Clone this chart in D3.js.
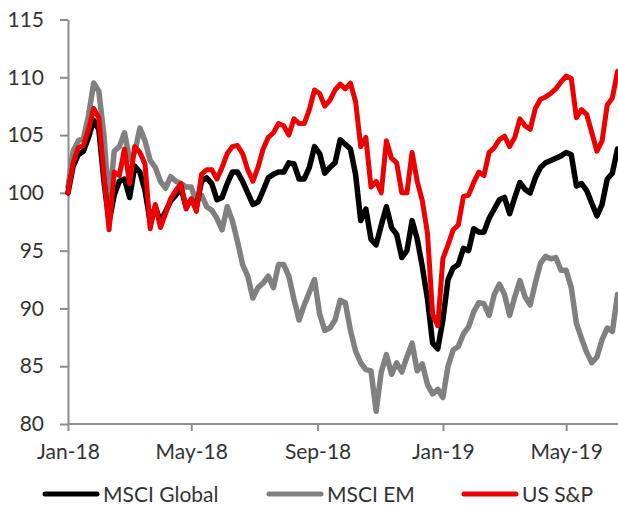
<!doctype html>
<html>
  <head>
    <script src="https://d3js.org/d3.v7.min.js"></script>
    <style>
      body { margin: 0; background: #fff; }
      text { font-family: Lato, "Open Sans", sans-serif; font-size: 21px; fill: #333; }
      .axis path, .axis line { stroke: #8c8c8c; stroke-width: 2; }
      .series { fill: none; stroke-linejoin: round; stroke-linecap: round; }
    </style>
  </head>
  <body>
    <svg id="chart" width="618" height="506"></svg>
    <script>
      // index level, rebased to 100 at start of 2018; one reading every 5 days
      const startDate = new Date(2018, 0, 1);
      const stepDays = 5;

      const msciGlobal = [100, 102.3, 103.3, 103.6, 104.8, 106.3, 105.5, 101.0, 97.5, 99.8,
        101.0, 101.2, 99.6, 102.3, 101.8, 100.2, 97.5, 98.8, 97.5, 98.4,
        99.3, 99.8, 100.4, 98.8, 99.4, 98.8, 101.0, 101.3, 100.8, 99.4,
        99.6, 100.8, 101.8, 101.8, 101.0, 100.0, 99.0, 99.2, 100.2, 101.3,
        101.6, 101.8, 101.8, 102.6, 102.5, 101.2, 101.2, 102.2, 104.0, 103.4,
        101.7, 102.2, 102.6, 104.6, 104.2, 103.8, 101.6, 97.6, 98.6, 96.0,
        95.5, 97.2, 98.8, 97.0, 96.4, 94.4, 95.0, 97.6, 96.0, 93.6,
        90.8, 87.0, 86.5, 89.0, 92.5, 93.5, 93.8, 95.2, 95.0, 96.9,
        96.6, 96.6, 97.8, 98.6, 99.4, 99.6, 98.2, 99.6, 100.9, 100.3,
        100.0, 101.3, 102.2, 102.6, 102.8, 103.0, 103.2, 103.5, 103.3, 100.6,
        100.8, 100.2, 99.1, 98.0, 99.0, 101.2, 101.7, 103.8];

      const msciEM = [100.5, 103.6, 104.5, 104.7, 106.7, 109.5, 108.8, 105.0, 99.0, 103.6,
        104.0, 105.2, 102.9, 103.5, 105.6, 104.5, 102.8, 102.2, 101.0, 100.4,
        101.4, 101.0, 100.8, 100.5, 100.5, 99.2, 99.8, 98.8, 98.5, 97.8,
        96.8, 98.8, 97.6, 95.8, 93.8, 92.8, 90.9, 91.8, 92.2, 92.8,
        91.8, 93.8, 93.8, 92.8, 90.8, 89.0, 90.3, 91.4, 92.5, 89.5,
        88.1, 88.3, 89.0, 90.7, 90.5, 88.1, 86.3, 85.3, 84.7, 84.6,
        81.1, 84.5, 86.0, 84.3, 85.3, 84.5, 85.8, 87.0, 84.6, 85.2,
        83.4, 82.6, 83.0, 82.3, 85.0, 86.4, 86.7, 87.8, 88.4, 89.7,
        90.5, 90.4, 89.4, 91.2, 92.1, 91.2, 89.4, 91.0, 92.4, 91.0,
        90.3, 92.2, 93.9, 94.5, 94.3, 94.4, 93.3, 93.3, 91.8, 88.7,
        87.4, 86.2, 85.3, 85.8, 87.3, 88.3, 88.0, 91.2];

      const usSP = [100, 102.6, 103.9, 104.1, 105.5, 107.3, 106.5, 101.5, 96.8, 101.8,
        101.5, 103.8, 100.8, 104.0, 103.5, 102.5, 96.9, 99.0, 97.0, 98.2,
        99.5, 100.2, 100.8, 98.6, 99.5, 98.4, 101.6, 102.0, 102.0, 101.2,
        102.2, 103.4, 104.0, 104.1, 103.4, 102.0, 101.0, 102.2, 103.8, 104.8,
        105.2, 106.0, 105.8, 105.0, 106.4, 106.0, 106.0, 107.2, 108.9, 108.6,
        107.5, 108.0, 108.9, 109.4, 109.0, 109.5, 107.9, 104.0, 104.8, 100.5,
        101.0, 100.0, 104.5, 103.0, 102.6, 100.0, 100.0, 103.5, 101.0, 99.3,
        96.5, 89.5, 88.5, 94.3, 95.5, 96.8, 97.2, 99.7, 99.8, 100.9,
        101.8, 101.5, 103.5, 103.9, 104.6, 104.9, 104.0, 104.8, 106.4, 105.8,
        105.5, 107.3, 108.1, 108.3, 108.6, 109.0, 109.6, 110.1, 109.9, 106.5,
        107.2, 106.8, 105.2, 103.6, 104.5, 107.6, 108.2, 110.5];

      const yTicks = [80, 85, 90, 95, 100, 105, 110, 115];
      const xTicks = [new Date(2018, 0, 1), new Date(2018, 4, 1), new Date(2018, 8, 1),
                      new Date(2019, 0, 1), new Date(2019, 4, 1)];

      const seriesList = [
        { name: 'MSCI EM', values: msciEM, color: '#808080', width: 5.5 },
        { name: 'MSCI Global', values: msciGlobal, color: '#000000', width: 5.5 },
        { name: 'US S&P', values: usSP, color: '#ee0000', width: 5 }
      ];

      const dates = msciGlobal.map((v, i) => d3.timeDay.offset(startDate, i * stepDays));

      const svg = d3.select('#chart');

      const xScale = d3.scaleTime()
        .domain([startDate, dates[dates.length - 1]])
        .range([68, 617.5]);

      const yScale = d3.scaleLinear().domain([80, 115]).range([424, 19.5]);

      const fmt = d3.timeFormat('%b-%y');

      // x axis
      const xAxis = svg.append('g')
        .attr('class', 'axis')
        .attr('transform', 'translate(0,424)')
        .call(d3.axisBottom(xScale).tickValues(xTicks).tickFormat(fmt).tickSize(7).tickSizeOuter(0).tickPadding(13));
      xAxis.select('.domain').attr('d', 'M68,0H640');

      // y axis
      svg.append('g')
        .attr('class', 'axis')
        .attr('transform', 'translate(68,0)')
        .call(d3.axisLeft(yScale).tickValues(yTicks).tickSize(8).tickSizeOuter(0).tickPadding(16));

      svg.selectAll('.axis text').style('fill', '#333').style('font-size', '21px');

      const line = d3.line()
        .x((d, i) => xScale(dates[i]))
        .y(d => yScale(d));

      svg.selectAll('path.series')
        .data(seriesList)
        .enter()
        .append('path')
        .attr('class', 'series')
        .attr('stroke', s => s.color)
        .attr('stroke-width', s => s.width)
        .attr('d', s => line(s.values));

      // legend
      const legendOrder = [seriesList[1], seriesList[0], seriesList[2]];
      const legendX = [43, 267, 462];
      const legend = svg.selectAll('g.legend')
        .data(legendOrder)
        .enter()
        .append('g')
        .attr('class', 'legend')
        .attr('transform', (s, i) => `translate(${legendX[i]},494)`);

      legend.append('line')
        .attr('x1', 2).attr('x2', 54)
        .attr('y1', 0).attr('y2', 0)
        .attr('stroke', s => s.color)
        .attr('stroke-width', 5)
        .attr('stroke-linecap', 'round');

      legend.append('text')
        .attr('x', 60)
        .attr('y', 8)
        .text(s => s.name);
    </script>
  </body>
</html>
